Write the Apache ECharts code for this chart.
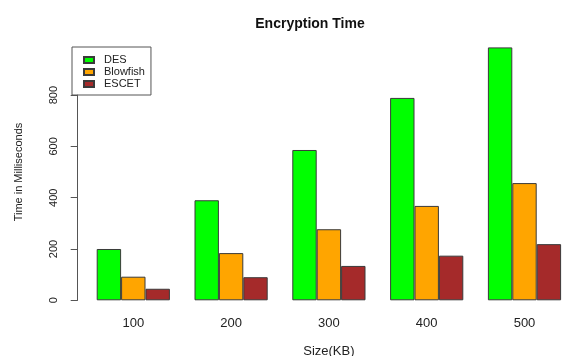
<!DOCTYPE html>
<html><head><meta charset="utf-8">
<script src="https://cdn.jsdelivr.net/npm/echarts@6/dist/echarts.min.js"></script>
<style>html,body{margin:0;padding:0;background:#fff}#c{width:563px;height:356px}</style>
</head><body><div id="c"></div>
<script>
const categories = ['100','200','300','400','500'];
const desValues = [200, 390, 586, 789, 986];
const blowfishValues = [92, 184, 277, 368, 457];
const escetValues = [45, 90, 134, 174, 219];
const yTicks = [0, 200, 400, 600, 800];

const chart = echarts.init(document.getElementById('c'), null, {renderer:'canvas'});
const font = 'Liberation Sans, Arial, Helvetica, sans-serif';
const border = {borderColor:'#3a3a3a', borderWidth:1};
chart.setOption({
  animation:false,
  backgroundColor:'#fff',
  textStyle:{fontFamily:font},
  title:{text:'Encryption Time', left:305, textAlign:'center', top:12,
    textStyle:{fontSize:14, fontWeight:'bold', color:'#111', fontFamily:font}},
  legend:{orient:'vertical', left:72, top:47, padding:[7,6,5,11], icon:'rect',
    borderColor:'#555', borderWidth:1, itemWidth:10, itemHeight:6, itemGap:0,
    textStyle:{fontSize:11, color:'#222', lineHeight:12, padding:[0,0,0,5], fontFamily:font},
    data:['DES','Blowfish','ESCET']},
  grid:[
    {left:84.4, width:489, top:43.8, bottom:55.7, outerBoundsMode:'none', containLabel:false},
    {left:84.4, width:489, top:95.1, bottom:55.7, outerBoundsMode:'none', containLabel:false}
  ],
  xAxis:[
    {type:'category', gridIndex:0, data:categories,
      axisLine:{show:false}, axisTick:{show:false},
      axisLabel:{fontSize:13, color:'#222', margin:17},
      name:'Size(KB)', nameLocation:'middle', nameGap:45,
      nameTextStyle:{fontSize:13, color:'#222'}},
    {type:'category', gridIndex:1, data:categories, show:false}
  ],
  yAxis:[
    {type:'value', gridIndex:0, min:0, max:1000,
      axisLine:{show:false}, axisTick:{show:false}, axisLabel:{show:false}, splitLine:{show:false},
      name:'Time in Milliseconds', nameLocation:'middle', nameGap:60,
      nameTextStyle:{fontSize:11, color:'#222'}},
    {type:'value', gridIndex:1, min:yTicks[0], max:yTicks[yTicks.length-1], interval:200, offset:6.7,
      axisLine:{show:true, lineStyle:{color:'#555', width:1}},
      axisTick:{show:true, length:7, lineStyle:{color:'#555'}},
      axisLabel:{fontSize:11, color:'#222', rotate:90, margin:18},
      splitLine:{show:false}}
  ],
  series:[
    {name:'DES', type:'bar', xAxisIndex:0, yAxisIndex:0, data:desValues, barWidth:24.4, barGap:'0%',
      itemStyle:Object.assign({color:'#00ff00'}, border)},
    {name:'Blowfish', type:'bar', xAxisIndex:0, yAxisIndex:0, data:blowfishValues, barWidth:24.4, barGap:'0%',
      itemStyle:Object.assign({color:'#ffa500'}, border)},
    {name:'ESCET', type:'bar', xAxisIndex:0, yAxisIndex:0, data:escetValues, barWidth:24.4, barGap:'0%',
      itemStyle:Object.assign({color:'#a52a2a'}, border)}
  ]
});
</script></body></html>
